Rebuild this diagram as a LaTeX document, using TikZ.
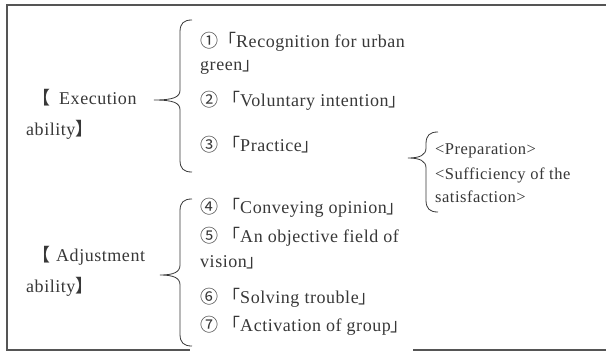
\documentclass[tikz,border=0pt]{standalone}
\usepackage{fontspec}
\setmainfont{Liberation Serif}[LetterSpace=3.0]
\newfontfamily\cjk{Noto Sans CJK JP}
\definecolor{ink}{HTML}{383838}
\definecolor{framec}{HTML}{555555}
\newcommand{\mkbrace}[6]{% #1 x of ends, #2 y top, #3 y bottom, #4 x of stem, #5 x of tip, #6 y of tip
  \draw[bracepath] (#1,#2) .. controls (#4+4,#2) and (#4,#2+3) .. (#4,#2+12)
    -- (#4,#6-10) .. controls (#4,#6-3) and (#4-6,#6) .. (#5,#6)
    .. controls (#4-6,#6) and (#4,#6+3) .. (#4,#6+10)
    -- (#4,#3-12) .. controls (#4,#3-3) and (#4+4,#3) .. (#1,#3);}
\begin{document}
\begin{tikzpicture}[x=1pt,y=-1pt,
  txt/.style={anchor=west,inner sep=0pt,text height=12pt,text depth=4pt,
    font=\fontsize{18}{20}\selectfont,text=ink},
  rtxt/.style={txt,font=\fontsize{16.5}{20}\selectfont},
  bracepath/.style={draw=ink,line width=0.8pt},
  framel/.style={draw=framec,line width=1.6pt}]
\useasboundingbox (0,0) rectangle (606,354);
\fill[white] (0,0) rectangle (606,354);
% frame
\coordinate (f1) at (606,5);
\coordinate (f2) at (7,5);
\coordinate (f3) at (7,350);
\coordinate (f4) at (190,350);
\coordinate (f5) at (413,350);
\coordinate (f6) at (606,350);
\draw[framel] (f1) -- (f2) -- (f3) -- (f4);
\draw[framel] (f5) -- (f6);
% left labels
\node[txt] (ex1) at (32,100) {{\cjk 【}\hspace{9pt}Execution};
\node[txt] (ex2) at (26,131) {ability{\cjk 】}};
\node[txt] (ad1) at (32,257) {{\cjk 【}\hspace{6pt}Adjustment};
\node[txt] (ad2) at (26,288) {ability{\cjk 】}};
% braces
\mkbrace{192}{20}{172}{180}{154}{100}
\mkbrace{192}{199}{346}{180}{160}{275}
\mkbrace{438}{132}{212}{426}{408}{158}
% execution items
\node[txt] (i1a) at (200,43) {{\cjk ①「}Recognition for urban};
\node[txt] (i1b) at (200,66) {green{\cjk 」}};
\node[txt] (i2) at (200,102) {{\cjk ② 「}Voluntary intention{\cjk 」}};
\node[txt] (i3) at (200,147) {{\cjk ③ 「}Practice{\cjk 」}};
% adjustment items
\node[txt] (i4) at (200,209) {{\cjk ④ 「}Conveying opinion{\cjk 」}};
\node[txt] (i5a) at (200,238) {{\cjk ⑤ 「}An objective field of};
\node[txt] (i5b) at (200,263) {vision{\cjk 」}};
\node[txt] (i6) at (200,299) {{\cjk ⑥ 「}Solving trouble{\cjk 」}};
\node[txt] (i7) at (200,327) {{\cjk ⑦ 「}Activation of group{\cjk 」}};
% right items
\node[rtxt] (r1) at (435,150) {<Preparation>};
\node[rtxt] (r2) at (435,175) {<Sufficiency of the};
\node[rtxt] (r3) at (435,198) {satisfaction>};
\end{tikzpicture}
\end{document}
